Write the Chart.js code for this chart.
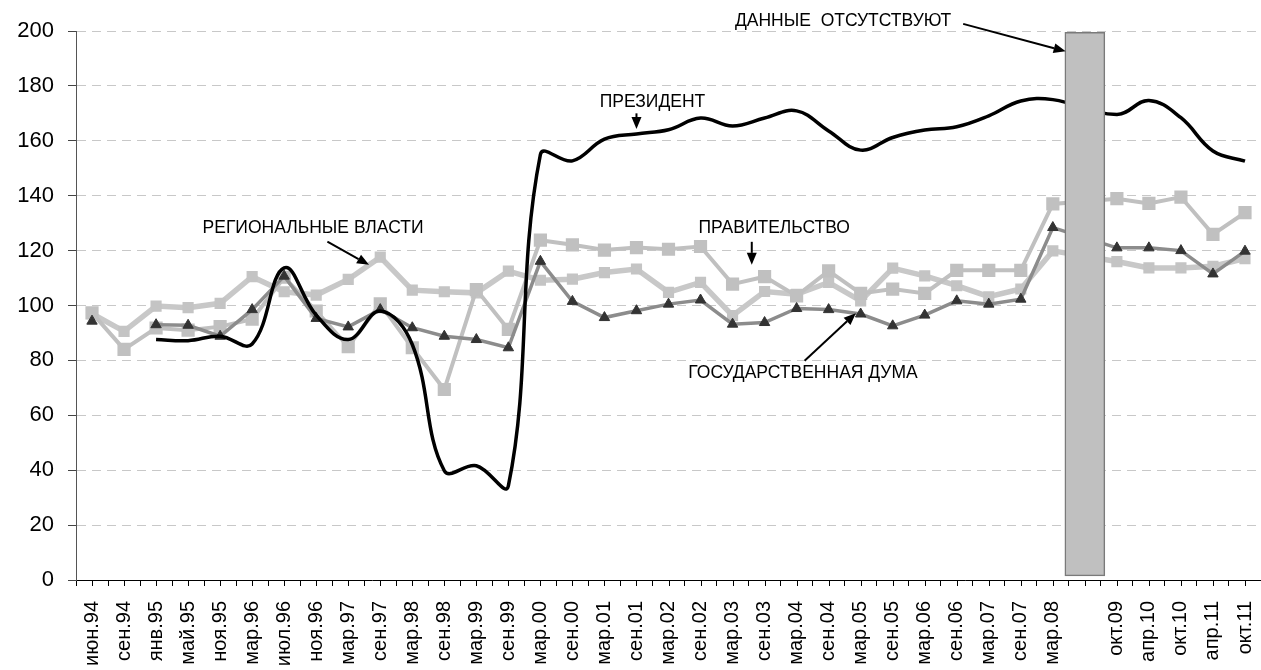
<!DOCTYPE html>
<html lang="ru">

<head>
    <meta charset="UTF-8" />
    <meta name="viewport" content="width=device-width, initial-scale=1.0" />
    <title>Доверие к институтам власти</title>
    <style>
        * {
            margin: 0;
            padding: 0;
        }

        body {
            background: #fff;
            overflow: hidden;
        }

        .chartBox {
            width: 1261px;
            height: 670px;
        }
    </style>
</head>

<body>
    <div class="chartBox">
        <canvas id="myChart"></canvas>
    </div>
    <script src="https://cdn.jsdelivr.net/npm/chart.js@4.4.1/dist/chart.umd.min.js"></script>
    <script>
        const labels = [
            "июн.94", "сен.94", "янв.95", "май.95", "ноя.95", "мар.96", "июл.96", "ноя.96",
            "мар.97", "сен.97", "мар.98", "сен.98", "мар.99", "сен.99", "мар.00", "сен.00",
            "мар.01", "сен.01", "мар.02", "сен.02", "мар.03", "сен.03", "мар.04", "сен.04",
            "мар.05", "сен.05", "мар.06", "сен.06", "мар.07", "сен.07", "мар.08", "",
            "окт.09", "апр.10", "окт.10", "апр.11", "окт.11",
        ];

        const president = [
            null, null, 87.6, 87.2, 88.8, 86, 113.7, 96.5, 87.6, 98, 85.8, 39.8, 41.6, 34.3,
            155, 152.7, 160.6, 162.5, 164, 168.3, 165.4, 168.3, 170.9, 163.6, 156.6, 161.2,
            163.9, 165.1, 169.1, 174.5, 175, null, 169.6, 174.7, 168.4, 156.3, 152.6,
        ];

        const duma = [
            94.3, null, 93, 92.8, 88.8, 98.5, 110.7, 95.3, 92.2, 98.5, 91.9, 88.8, 87.6, 84.6,
            116.1, 101.5, 95.6, 98.1, 100.5, 102, 93.2, 93.8, 98.9, 98.5, 96.9, 92.6,
            96.5, 101.7, 100.5, 102.3, 128.4, null, 121, 121, 120, 111.5, 119.8,
        ];

        const government = [
            97.3, 84, 91.8, 91, 92.3, 95, 110.3, 98, 85, 100.6, 84.6, 69.4, 105.8, 91.3,
            123.8, 122.1, 120.2, 121.1, 120.5, 121.5, 107.8, 110.5, 103.5, 112.6, 104.4, 106,
            104.4, 112.8, 112.8, 112.8, 137, null, 138.9, 137.2, 139.5, 125.9, 133.8,
        ];

        const regional = [
            97, 90.6, 99.8, 99.2, 100.8, 110.5, 105, 103.8, 109.5, 117.6, 105.6, 105, 104.6, 112.5,
            109.2, 109.6, 112, 113.3, 104.8, 108.4, 96.3, 105.1, 104.1, 108.4, 101.7, 113.6,
            110.8, 107.2, 103.2, 106, 119.9, null, 116, 113.7, 113.7, 114.3, 117.1,
        ];

        // период без данных (серый столбик)
        const gapIndex = 31;
        const gapRange = [1.5, 199.5];

        const yTicks = [0, 20, 40, 60, 80, 100, 120, 140, 160, 180, 200];

        // подписи со стрелками: [индекс категории, значение]
        const notes = [
            { text: "ДАННЫЕ  ОТСУТСТВУЮТ", at: [23.45, 203.6], from: [27.2, 202.6], to: [30.4, 192.6] },
            { text: "ПРЕЗИДЕНТ", at: [17.5, 174], from: [17.0, 170], to: [17.0, 164.3] },
            { text: "РЕГИОНАЛЬНЫЕ ВЛАСТИ", at: [6.9, 128.1], from: [7.35, 123.3], to: [8.65, 114.8] },
            { text: "ПРАВИТЕЛЬСТВО", at: [21.3, 128.1], from: [20.6, 123.2], to: [20.6, 114.8] },
            { text: "ГОСУДАРСТВЕННАЯ ДУМА", at: [22.2, 75.4], from: [22.25, 79.9], to: [23.85, 97.2] },
        ];

        const FONT = '"Liberation Sans", Arial, sans-serif';

        function arrow(ctx, x1, y1, x2, y2) {
            const a = Math.atan2(y2 - y1, x2 - x1);
            const len = 12, half = 5;
            const bx = x2 - len * Math.cos(a), by = y2 - len * Math.sin(a);
            ctx.beginPath();
            ctx.moveTo(x1, y1);
            ctx.lineTo(bx, by);
            ctx.stroke();
            ctx.beginPath();
            ctx.moveTo(x2, y2);
            ctx.lineTo(bx + half * Math.sin(a), by - half * Math.cos(a));
            ctx.lineTo(bx - half * Math.sin(a), by + half * Math.cos(a));
            ctx.closePath();
            ctx.fill();
        }

        const extras = {
            id: "extras",
            afterDatasetsDraw(chart) {
                const { ctx, chartArea, scales: { x, y } } = chart;
                ctx.save();
                // засечки в центре категорий
                ctx.strokeStyle = "#000";
                ctx.lineWidth = 1;
                ctx.beginPath();
                for (let i = 0; i < labels.length; i++) {
                    const px = Math.round(x.getPixelForValue(i)) + 0.5;
                    ctx.moveTo(px, chartArea.bottom);
                    ctx.lineTo(px, chartArea.bottom + 6);
                }
                ctx.stroke();

                ctx.font = "17.5px " + FONT;
                ctx.fillStyle = "#000";
                ctx.textAlign = "center";
                ctx.textBaseline = "middle";
                ctx.lineWidth = 2;
                notes.forEach(n => {
                    ctx.fillText(n.text, x.getPixelForValue(n.at[0]), y.getPixelForValue(n.at[1]));
                    arrow(ctx,
                        x.getPixelForValue(n.from[0]), y.getPixelForValue(n.from[1]),
                        x.getPixelForValue(n.to[0]), y.getPixelForValue(n.to[1]));
                });
                ctx.restore();
            },
        };

        const data = {
            labels: labels,
            datasets: [
                {
                    type: "bar",
                    label: "нет данных",
                    data: labels.map((_, i) => (i === gapIndex ? gapRange : null)),
                    backgroundColor: "#c0c0c0",
                    borderColor: "#7a7a7a",
                    borderWidth: 1.5,
                    borderSkipped: false,
                    barThickness: 40,
                    order: 0,
                },
                {
                    label: "Президент",
                    data: president,
                    borderColor: "#000",
                    borderWidth: 3.5,
                    pointRadius: 0,
                    tension: 0.4,
                    spanGaps: true,
                    order: 1,
                },
                {
                    label: "Государственная дума",
                    data: duma,
                    borderColor: "#8c8c8c",
                    borderWidth: 3.5,
                    pointStyle: "triangle",
                    pointRadius: 6,
                    pointBackgroundColor: "#333",
                    pointBorderColor: "#333",
                    pointBorderWidth: 1,
                    spanGaps: true,
                    segment: {
                        borderColor: c => (duma[c.p1DataIndex - 1] === null && c.p1DataIndex - 1 !== gapIndex)
                            ? "rgba(0,0,0,0)" : undefined,
                    },
                    order: 2,
                },
                {
                    label: "Правительство",
                    data: government,
                    borderColor: "#c0c0c0",
                    borderWidth: 4,
                    pointStyle: "rect",
                    pointRadius: 6.5,
                    pointBackgroundColor: "#c0c0c0",
                    pointBorderColor: "#c0c0c0",
                    spanGaps: true,
                    order: 3,
                },
                {
                    label: "Региональные власти",
                    data: regional,
                    borderColor: "#c8c8c8",
                    borderWidth: 5.5,
                    pointStyle: "rect",
                    pointRadius: 4,
                    pointBackgroundColor: "#c4c4c4",
                    pointBorderColor: "#c4c4c4",
                    spanGaps: true,
                    order: 4,
                },
            ],
        };

        const options = {
            responsive: true,
            maintainAspectRatio: false,
            animation: false,
            layout: {
                autoPadding: false,
                padding: { top: 31, left: 0, right: 0, bottom: 0 },
            },
            scales: {
                x: {
                    type: "category",
                    offset: true,
                    grid: {
                        display: true,
                        drawOnChartArea: false,
                        drawTicks: true,
                        tickLength: 6,
                        tickColor: "#000",
                        offset: true,
                    },
                    border: { color: "#000", width: 1 },
                    ticks: {
                        autoSkip: false,
                        maxRotation: 90,
                        minRotation: 90,
                        padding: 15,
                        color: "#000",
                        font: { family: FONT, size: 20 },
                    },
                    afterFit: s => {
                        s.height = 90;
                        s.paddingLeft = 0;
                        s.paddingRight = 0;
                    },
                },
                y: {
                    min: 0,
                    max: 200,
                    afterBuildTicks: s => { s.ticks = yTicks.map(v => ({ value: v })); },
                    grid: {
                        color: "#c8c8c8",
                        tickColor: "#444",
                        tickLength: 8,
                    },
                    border: { color: "#555", width: 1, dash: [9, 6] },
                    ticks: {
                        padding: 14,
                        color: "#000",
                        font: { family: FONT, size: 22 },
                    },
                    afterFit: s => { s.width = 76; },
                },
            },
            plugins: {
                legend: { display: false },
                tooltip: { enabled: false },
            },
        };

        const config = {
            type: "line",
            data: data,
            options: options,
            plugins: [extras],
        };

        const ctx = document.getElementById("myChart").getContext("2d");
        const myChart = new Chart(ctx, config);
    </script>
</body>

</html>
